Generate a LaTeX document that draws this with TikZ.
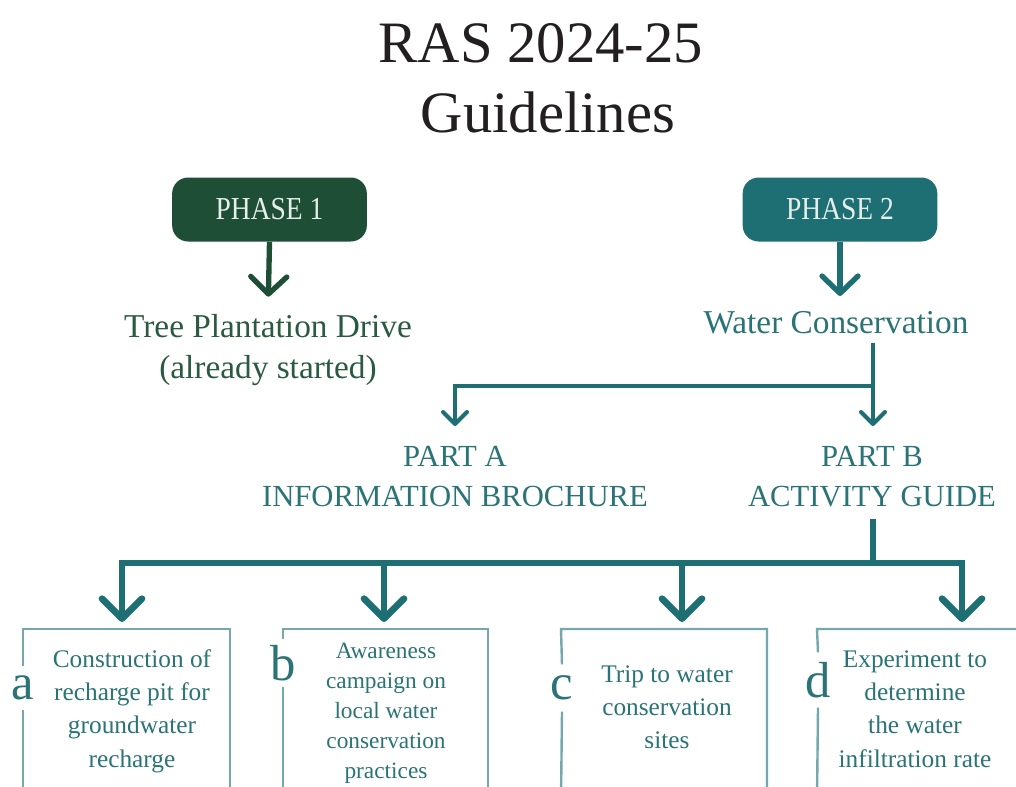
\documentclass[tikz,border=0pt]{standalone}
\usepackage{fontspec}
\setmainfont{Liberation Serif}
\newfontfamily\narrowserif[FakeStretch=0.86]{Liberation Serif}
\usetikzlibrary{arrows.meta}
\definecolor{dgreen}{HTML}{1F4E37}
\definecolor{tealc}{HTML}{1D6F73}
\definecolor{tealtxt}{HTML}{2A7376}
\definecolor{greentxt}{HTML}{2A5A40}
\definecolor{boxln}{HTML}{74A8AB}
\definecolor{titlec}{HTML}{231F20}
\definecolor{phtext}{HTML}{E6EEEA}
\begin{document}
\begin{tikzpicture}[x=0.75pt,y=-0.75pt,
  phasebox/.style={rounded corners=12pt, minimum width=146pt, minimum height=48pt,
    inner sep=0pt, text=phtext, font=\narrowserif\fontsize{24}{28}\selectfont},
  titletext/.style={text=titlec, inner sep=0pt, font=\fontsize{44}{50}\selectfont},
  subtext/.style={inner sep=0pt, align=center, font=\fontsize{25}{31}\selectfont},
  parttext/.style={inner sep=0pt, align=center, text=tealtxt, font=\fontsize{23}{30}\selectfont},
  tasktext/.style={inner sep=0pt, align=center, text=tealtxt, font=\fontsize{19}{25}\selectfont},
  letterlbl/.style={inner sep=0pt, text=tealtxt, font=\fontsize{38}{40}\selectfont},
  phasearrow/.style={line width=4pt, -{Straight Barb[round,length=13pt,width=27pt]}},
  partline/.style={line width=3pt, color=tealc},
  partarrow/.style={line width=3pt, color=tealc, -{Straight Barb[round,length=9pt,width=18pt]}},
  bigarrow/.style={line width=5pt, color=tealc, -{Straight Barb[round,length=15pt,width=30pt]}},
  boxline/.style={line width=1.8pt, color=boxln}
]
\useasboundingbox (0,0) rectangle (1016,786);
\fill[white] (0,0) rectangle (1016,786);
\clip (0,0) rectangle (1016,786);

% title
\node[titletext, anchor=base] (t1) at (541,62) {RAS 2024-25};
\node[titletext, anchor=base] (t2) at (548,132) {Guidelines};

% phases
\node[phasebox, fill=dgreen] (p1) at (269.5,209.5) {PHASE 1};
\node[phasebox, fill=tealc] (p2) at (840,209.5) {PHASE 2};

\node[subtext, text=greentxt, anchor=north] (tree) at (268,314) {Tree Plantation Drive\\(already started)};
\node[subtext, text=tealtxt, anchor=base] (wc) at (836,333) {Water Conservation};

\draw[phasearrow, color=dgreen, shorten >=13pt] (p1.south) -- (tree.north);
\draw[phasearrow, color=tealc] (p2.south) -- (840,296);

% parts
\node[parttext, anchor=north] (pa) at (455,446) {PART A\\INFORMATION BROCHURE};
\node[parttext, anchor=north] (pb) at (872,446) {PART B\\ACTIVITY GUIDE};

\coordinate (wj) at (873,386);
\draw[partline] (wc.south -| wj) ++(0,9) -- (wj);
\draw[partarrow, shorten >=15pt] (wj) -| (pa.north);
\draw[partarrow, shorten >=15pt] (wj) -- (wj |- pb.north);

% bus
\coordinate (jm) at (873,563);
\coordinate (jb) at (384,563);
\coordinate (jc) at (682,563);
\coordinate (ta) at (122,622);
\coordinate (tb) at (384,622);
\coordinate (tc) at (682,622);
\coordinate (td) at (962,622);
\draw[line width=5pt, color=tealc] (pb.south -| jm) ++(0,12) -- (jm);
\draw[bigarrow] (jm) -| (ta);
\draw[bigarrow] (jm) -| (td);
\draw[bigarrow] (jb) -- (tb);
\draw[bigarrow] (jc) -- (tc);

% letters
\node[letterlbl, minimum height=33pt] (la) at (23,688) {a};
\node[letterlbl, minimum height=36pt] (lb) at (283,663) {b};
\node[letterlbl, minimum height=35pt] (lc) at (562,688) {c};
\node[letterlbl, minimum height=41pt] (ld) at (818,680) {d};

% frames
\draw[boxline] (la.north) -- (23,629) -- (230,629) -- (230,800);
\draw[boxline] (la.south) -- (23,800);
\draw[boxline] (lb.north) -- (283,629) -- (488,629) -- (488,800);
\draw[boxline] (lb.south) -- (283,800);
\draw[boxline] (lc.north) -- (561,629) -- (767,629) -- (767,800);
\draw[boxline] (lc.south) -- (561,800);
\draw[boxline] (ld.north) -- (817,629) -- (1030,629);
\draw[boxline] (ld.south) -- (817,800);

% task texts
\node[tasktext, anchor=north] (ka) at (132,649) {Construction of\\recharge pit for\\groundwater\\recharge};
\node[tasktext, anchor=north, font=\fontsize{17.5}{22.5}\selectfont] (kb) at (386,643) {Awareness\\campaign on\\local water\\conservation\\practices};
\node[tasktext, anchor=north] (kc) at (667,665) {Trip to water\\conservation\\sites};
\node[tasktext, anchor=north] (kd) at (915,650) {Experiment to\\determine\\the water\\infiltration rate};
\end{tikzpicture}
\end{document}
